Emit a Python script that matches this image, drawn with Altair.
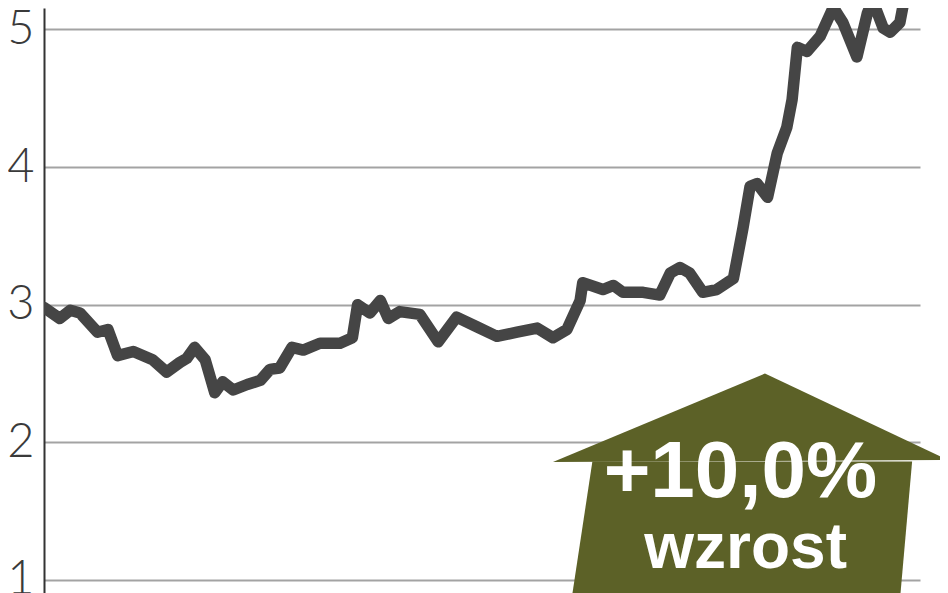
import altair as alt
import pandas as pd

# ---- data ----
days = [0, 1.8, 3.0, 4.1, 6.1, 7.3, 8.4, 10.2, 12.4, 14.0, 15.5, 16.3, 17.2, 18.4,
        19.5, 20.4, 21.6, 23.2, 24.7, 25.8, 26.9, 28.3, 29.6, 31.5, 33.8, 35.2,
        35.8, 37.2, 38.4, 39.3, 40.6, 42.9, 45.0, 47.1, 49.4, 51.7, 54.0, 56.3,
        58.1, 59.7, 61.2, 61.5, 63.8, 65.0, 66.1, 68.4, 70.3, 71.5, 72.6, 73.7,
        75.2, 76.8, 78.7, 79.8, 80.6, 81.4, 82.6, 83.7, 84.8, 85.4, 86.0, 87.1,
        88.6, 90.1, 91.2, 92.8, 94.0, 94.6, 95.8, 96.6, 97.7, 98.6]
price = [2.98, 2.90, 2.96, 2.94, 2.80, 2.82, 2.63, 2.66, 2.60, 2.51, 2.58, 2.61,
         2.69, 2.60, 2.36, 2.44, 2.38, 2.42, 2.45, 2.53, 2.54, 2.69, 2.67, 2.72,
         2.72, 2.76, 3.00, 2.94, 3.03, 2.90, 2.95, 2.93, 2.73, 2.91, 2.84, 2.77,
         2.80, 2.83, 2.76, 2.82, 3.03, 3.16, 3.11, 3.14, 3.09, 3.09, 3.07, 3.23,
         3.27, 3.23, 3.09, 3.11, 3.19, 3.56, 3.86, 3.88, 3.78, 4.10, 4.29, 4.49,
         4.87, 4.84, 4.95, 5.16, 5.05, 4.80, 5.12, 5.21, 5.01, 4.98, 5.05, 5.35]
y_ticks = [1, 2, 3, 4, 5]

# arrow annotation (head triangle and shaft), in data units
head_x = [58.1, 82.3, 103.2]
head_top = [1.857, 2.50, 1.872]
head_base = [1.857, 1.865, 1.872]
shaft_x = [60.2, 62.6, 97.7, 99.1]
shaft_top = [0.85, 1.86, 1.86, 1.86]
shaft_base = [0.85, 0.85, 0.85, 1.86]

label_main = "+10,0%"
label_sub = "wzrost"

X_DOM = [0, 100]
Y_DOM = [0.905, 5.156]

line_df = pd.DataFrame({"day": days, "price": price})
head_df = pd.DataFrame({"day": head_x, "top": head_top, "base": head_base})
shaft_df = pd.DataFrame({"day": shaft_x, "top": shaft_top, "base": shaft_base})
txt1_df = pd.DataFrame({"day": [79.5], "v": [1.60], "t": [label_main]})
txt2_df = pd.DataFrame({"day": [80.1], "v": [1.09], "t": [label_sub]})

xs = alt.Scale(domain=X_DOM, nice=False, zero=False)
ys = alt.Scale(domain=Y_DOM, nice=False, zero=False)

line = alt.Chart(line_df).mark_line(
    color="#454545", strokeWidth=11.5, strokeJoin="round", strokeCap="round", clip=True
).encode(
    x=alt.X("day:Q", scale=xs, axis=None),
    y=alt.Y("price:Q", scale=ys, title=None,
            axis=alt.Axis(values=y_ticks, grid=True, gridColor="#a3a3a3", gridWidth=2,
                          domain=True, domainColor="#333333", domainWidth=2,
                          ticks=False, labelFont="Lato", labelFontSize=47,
                          labelFontWeight=300, labelColor="#3a3a3a", labelPadding=10,
                          format="d")),
)

head = alt.Chart(head_df).mark_area(color="#5c6127", opacity=1, clip=False).encode(
    x=alt.X("day:Q", scale=xs), y=alt.Y("top:Q", scale=ys), y2="base:Q"
)
shaft = alt.Chart(shaft_df).mark_area(color="#5c6127", opacity=1, clip=False).encode(
    x=alt.X("day:Q", scale=xs), y=alt.Y("top:Q", scale=ys), y2="base:Q"
)
t1 = alt.Chart(txt1_df).mark_text(
    font="Liberation Sans", fontWeight="bold", fontSize=80, color="white",
    align="center", baseline="alphabetic", clip=False
).encode(x=alt.X("day:Q", scale=xs), y=alt.Y("v:Q", scale=ys), text="t:N")
t2 = alt.Chart(txt2_df).mark_text(
    font="Liberation Sans", fontWeight="bold", fontSize=64, color="white",
    align="center", baseline="alphabetic", clip=False
).encode(x=alt.X("day:Q", scale=xs), y=alt.Y("v:Q", scale=ys), text="t:N")

chart = alt.layer(line, shaft, head, t1, t2).properties(
    width=876, height=585,
    autosize=alt.AutoSizeParams(type="none"),
    padding={"left": 36, "top": 0, "right": 20, "bottom": 0},
    view=alt.ViewBackground(stroke="transparent", strokeWidth=0),
).configure_view(stroke="transparent", strokeWidth=0).configure(background="white")

chart.save("out.html", embed_options={"renderer": "svg", "actions": False})
